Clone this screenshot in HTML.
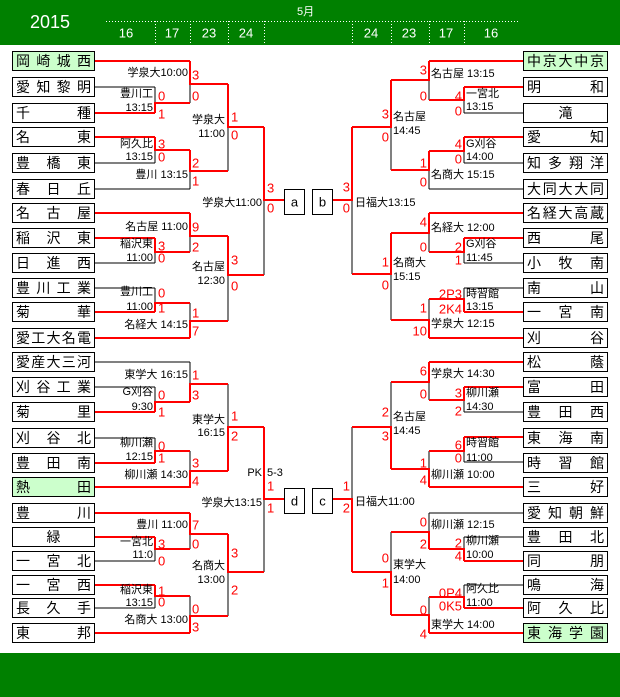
<!DOCTYPE html>
<html><head><meta charset="utf-8">
<style>
body{margin:0;width:620px;height:697px;position:relative;background:#fff;overflow:hidden;font-family:"Liberation Sans","Noto Sans CJK JP",sans-serif}
.t{position:absolute;height:18px;border:1px solid #000;display:flex;justify-content:space-between;align-items:center;padding:0 3px;font-size:14px;font-weight:normal;line-height:18px;box-sizing:content-box;background:#fff}
.l{left:12px;width:75px}
.r{left:523px;width:77px}
.g{background:#ccffcc}
.c{justify-content:center}
svg{position:absolute;left:0;top:0}
</style></head><body>
<svg width="620" height="697" font-family="Liberation Sans, Noto Sans CJK JP, sans-serif">
<rect x="0" y="0" width="620" height="45" fill="#008000"/>
<rect x="0" y="653" width="620" height="44" fill="#008000"/>
<text x="30" y="22" fill="#fff" font-size="18" dominant-baseline="central">2015</text>
<text x="297" y="12" fill="#fff" font-size="11" dominant-baseline="central">5月</text>
<g stroke="#fff" stroke-dasharray="1,2" stroke-width="1">
<line x1="106" y1="21.5" x2="520" y2="21.5"/>
<line x1="155.5" y1="21" x2="155.5" y2="45"/><line x1="190.5" y1="21" x2="190.5" y2="45"/><line x1="228.5" y1="21" x2="228.5" y2="45"/><line x1="264.5" y1="21" x2="264.5" y2="45"/>
<line x1="352.5" y1="21" x2="352.5" y2="45"/><line x1="391.5" y1="21" x2="391.5" y2="45"/><line x1="429.5" y1="21" x2="429.5" y2="45"/><line x1="464.5" y1="21" x2="464.5" y2="45"/>
</g>
<g fill="#fff" font-size="13" text-anchor="middle" dominant-baseline="central">
<text x="126" y="33">16</text><text x="172" y="33">17</text><text x="209" y="33">23</text><text x="246" y="33">24</text>
<text x="371" y="33">24</text><text x="409" y="33">23</text><text x="446" y="33">17</text><text x="491" y="33">16</text>
</g>
<g stroke="#000" stroke-width="1" fill="none">
<path d="M95 87H155M95 163H155M95 189H190M95 263H155M95 288H155M95 362H190M95 387H155M95 438H155M95 561H155M95 608H155"/>
<path d="M523 113H464M523 163H464M523 189H429M523 263H464M523 288H464M523 412H464M523 462H464M523 513H429M523 537H464M523 585H464"/>
<path d="M155 87V113M190 61V103M155 137V163M190 150V189M228 84V171M155 238V263M190 213V252M155 288V312M190 303V338M228 236V321M264 127V275M155 387V412M190 362V402M155 438V463M190 451V488M228 384V471M155 537V561M190 513V549M155 585V608M190 596V633M228 534V616M264 427V572"/>
<path d="M464 87V113M429 61V100M464 137V163M429 151V189M391 80V170M464 238V263M429 213V252M464 288V312M429 299V338M391 233V320M352 127V274M464 387V412M429 362V400M464 437V462M429 451V487M391 382V469M464 537V561M429 513V549M464 585V608M429 597V633M391 532V615M352 427V572"/>
</g>
<g stroke="#ff0000" stroke-width="2" fill="none">
<path d="M95 61H190M95 113H155M95 137H155M95 213H190M95 238H155M95 312H155M95 338H190M95 412H155M95 463H155M95 487H190M95 513H190M95 537H155M95 585H155M95 633H190"/>
<path d="M523 61H429M523 87H464M523 137H464M523 213H429M523 238H464M523 312H464M523 338H429M523 362H429M523 387H464M523 437H464M523 487H429M523 561H464M523 608H464M523 633H429"/>
<path d="M155 113V103H190M190 61V84H228M155 137V150H190M190 150V171H228M228 84V127H264M155 238V252H190M190 213V236H228M155 312V303H190M190 338V321H228M228 236V275H264M264 127V200H284M155 412V402H190M190 402V384H228M155 463V451H190M190 488V471H228M228 471V427H264M155 537V549H190M190 513V534H228M155 585V596H190M190 633V616H228M228 534V572H264M264 427V499H284"/>
<path d="M464 87V100H429M429 61V80H391M464 137V151H429M429 151V170H391M391 80V127H352M464 238V252H429M429 213V233H391M464 312V299H429M429 338V320H391M391 233V274H352M352 127V200H332M464 387V400H429M429 362V382H391M464 437V451H429M429 487V469H391M391 469V427H352M464 561V549H429M429 549V532H391M464 608V597H429M429 633V615H391M391 615V572H352M352 572V499H332"/>
</g>
<g stroke="#000" fill="#fff"><rect x="284.5" y="189.5" width="20" height="25"/><rect x="312.5" y="189.5" width="20" height="25"/><rect x="284.5" y="488.5" width="20" height="25"/><rect x="312.5" y="488.5" width="20" height="25"/></g>
<g font-size="13" text-anchor="middle" dominant-baseline="central"><text x="294.5" y="202">a</text><text x="322.5" y="202">b</text><text x="294.5" y="501">d</text><text x="322.5" y="501">c</text></g>
<g font-size="11" text-anchor="end" dominant-baseline="central" fill="#000">
<text x="188" y="73">学泉大10:00</text><text x="153" y="94">豊川工</text><text x="153" y="108">13:15</text>
<text x="225" y="120">学泉大</text><text x="225" y="134">11:00</text>
<text x="153" y="144">阿久比</text><text x="153" y="157">13:15</text><text x="188" y="175">豊川 13:15</text>
<text x="262" y="203">学泉大11:00</text>
<text x="188" y="227">名古屋 11:00</text><text x="153" y="244">稲沢東</text><text x="153" y="258">11:00</text>
<text x="225" y="267">名古屋</text><text x="225" y="281">12:30</text>
<text x="153" y="292">豊川工</text><text x="153" y="307">11:00</text><text x="188" y="325">名経大 14:15</text>
<text x="188" y="375">東学大 16:15</text><text x="153" y="392">G刈谷</text><text x="153" y="407">9:30</text>
<text x="225" y="420">東学大</text><text x="225" y="433">16:15</text>
<text x="153" y="443">柳川瀬</text><text x="153" y="457">12:15</text><text x="188" y="475">柳川瀬 14:30</text>
<text x="262" y="473">PK</text><text x="262" y="503">学泉大13:15</text>
<text x="188" y="525">豊川 11:00</text><text x="153" y="542">一宮北</text><text x="153" y="555">11:0</text>
<text x="225" y="566">名商大</text><text x="225" y="580">13:00</text>
<text x="153" y="590">稲沢東</text><text x="153" y="603">13:15</text><text x="188" y="620">名商大 13:00</text>
</g>
<g font-size="11" dominant-baseline="central" fill="#000">
<text x="267" y="473">5-3</text>
<text x="431" y="74">名古屋 13:15</text><text x="466" y="94">一宮北</text><text x="466" y="107">13:15</text>
<text x="393" y="117">名古屋</text><text x="393" y="131">14:45</text>
<text x="466" y="144">G刈谷</text><text x="466" y="157">14:00</text><text x="431" y="175">名商大 15:15</text>
<text x="355" y="203">日福大13:15</text>
<text x="431" y="228">名経大 12:00</text><text x="466" y="244">G刈谷</text><text x="466" y="258">11:45</text>
<text x="393" y="263">名商大</text><text x="393" y="277">15:15</text>
<text x="466" y="294">時習館</text><text x="466" y="307">13:15</text><text x="431" y="324">学泉大 12:15</text>
<text x="431" y="374">学泉大 14:30</text><text x="466" y="393">柳川瀬</text><text x="466" y="407">14:30</text>
<text x="393" y="417">名古屋</text><text x="393" y="431">14:45</text>
<text x="466" y="443">時習館</text><text x="466" y="458">11:00</text><text x="431" y="475">柳川瀬 10:00</text>
<text x="355" y="502">日福大11:00</text>
<text x="431" y="525">柳川瀬 12:15</text><text x="466" y="541">柳川瀬</text><text x="466" y="555">10:00</text>
<text x="393" y="565">東学大</text><text x="393" y="580">14:00</text>
<text x="466" y="589">阿久比</text><text x="466" y="603">11:00</text><text x="431" y="625">東学大 14:00</text>
</g>
<g font-size="13" fill="#ff0000" dominant-baseline="central">
<text x="158" y="96">0</text><text x="158" y="114">1</text>
<text x="192" y="75">3</text><text x="192" y="96">0</text>
<text x="158" y="144">3</text><text x="158" y="157">0</text>
<text x="192" y="163">2</text><text x="192" y="181">1</text>
<text x="231" y="117">1</text><text x="231" y="135">0</text>
<text x="267" y="188">3</text><text x="267" y="208">0</text>
<text x="158" y="246">3</text><text x="158" y="258">0</text>
<text x="192" y="227">9</text><text x="192" y="247">2</text>
<text x="158" y="293">0</text><text x="158" y="308">1</text>
<text x="192" y="313">1</text><text x="192" y="331">7</text>
<text x="231" y="260">3</text><text x="231" y="286">0</text>
<text x="158" y="395">0</text><text x="158" y="412">1</text>
<text x="192" y="375">1</text><text x="192" y="395">3</text>
<text x="158" y="446">0</text><text x="158" y="458">1</text>
<text x="192" y="463">3</text><text x="192" y="481">4</text>
<text x="231" y="416">1</text><text x="231" y="436">2</text>
<text x="267" y="486">1</text><text x="267" y="508">1</text>
<text x="192" y="525">7</text><text x="192" y="544">0</text>
<text x="158" y="544">3</text><text x="158" y="561">0</text>
<text x="158" y="591">1</text><text x="158" y="602">0</text>
<text x="192" y="609">0</text><text x="192" y="627">3</text>
<text x="231" y="553">3</text><text x="231" y="590">2</text>
</g>
<g font-size="13" fill="#ff0000" dominant-baseline="central" text-anchor="end">
<text x="462" y="96">4</text><text x="462" y="111">0</text>
<text x="427" y="70">3</text><text x="427" y="96">0</text>
<text x="462" y="144">4</text><text x="462" y="159">0</text>
<text x="427" y="163">1</text><text x="427" y="182">0</text>
<text x="389" y="114">3</text><text x="389" y="137">0</text>
<text x="350" y="187">3</text><text x="350" y="208">0</text>
<text x="462" y="247">2</text><text x="462" y="260">1</text>
<text x="427" y="222">4</text><text x="427" y="247">0</text>
<text x="462" y="294">2P3</text><text x="462" y="309">2K4</text>
<text x="427" y="308">1</text><text x="427" y="331">10</text>
<text x="389" y="262">1</text><text x="389" y="285">0</text>
<text x="462" y="393">3</text><text x="462" y="411">2</text>
<text x="427" y="371">6</text><text x="427" y="394">0</text>
<text x="462" y="445">6</text><text x="462" y="458">0</text>
<text x="427" y="463">1</text><text x="427" y="480">4</text>
<text x="389" y="412">2</text><text x="389" y="436">3</text>
<text x="350" y="486">1</text><text x="350" y="508">2</text>
<text x="462" y="543">2</text><text x="462" y="556">4</text>
<text x="427" y="522">0</text><text x="427" y="544">2</text>
<text x="462" y="593">0P4</text><text x="462" y="606">0K5</text>
<text x="427" y="610">0</text><text x="427" y="634">4</text>
<text x="389" y="558">0</text><text x="389" y="583">1</text>
</g>
</svg>
<div class="t l g" style="top:51px"><span>岡</span><span>崎</span><span>城</span><span>西</span></div>
<div class="t l" style="top:77px"><span>愛</span><span>知</span><span>黎</span><span>明</span></div>
<div class="t l" style="top:103px"><span>千</span><span>種</span></div>
<div class="t l" style="top:127px"><span>名</span><span>東</span></div>
<div class="t l" style="top:153px"><span>豊</span><span>橋</span><span>東</span></div>
<div class="t l" style="top:179px"><span>春</span><span>日</span><span>丘</span></div>
<div class="t l" style="top:203px"><span>名</span><span>古</span><span>屋</span></div>
<div class="t l" style="top:228px"><span>稲</span><span>沢</span><span>東</span></div>
<div class="t l" style="top:253px"><span>日</span><span>進</span><span>西</span></div>
<div class="t l" style="top:278px"><span>豊</span><span>川</span><span>工</span><span>業</span></div>
<div class="t l" style="top:302px"><span>菊</span><span>華</span></div>
<div class="t l" style="top:328px"><span>愛</span><span>工</span><span>大</span><span>名</span><span>電</span></div>
<div class="t l" style="top:352px"><span>愛</span><span>産</span><span>大</span><span>三</span><span>河</span></div>
<div class="t l" style="top:377px"><span>刈</span><span>谷</span><span>工</span><span>業</span></div>
<div class="t l" style="top:402px"><span>菊</span><span>里</span></div>
<div class="t l" style="top:428px"><span>刈</span><span>谷</span><span>北</span></div>
<div class="t l" style="top:453px"><span>豊</span><span>田</span><span>南</span></div>
<div class="t l g" style="top:477px"><span>熱</span><span>田</span></div>
<div class="t l" style="top:503px"><span>豊</span><span>川</span></div>
<div class="t l c" style="top:527px"><span>緑</span></div>
<div class="t l" style="top:551px"><span>一</span><span>宮</span><span>北</span></div>
<div class="t l" style="top:575px"><span>一</span><span>宮</span><span>西</span></div>
<div class="t l" style="top:598px"><span>長</span><span>久</span><span>手</span></div>
<div class="t l" style="top:623px"><span>東</span><span>邦</span></div>
<div class="t r g" style="top:51px"><span>中</span><span>京</span><span>大</span><span>中</span><span>京</span></div>
<div class="t r" style="top:77px"><span>明</span><span>和</span></div>
<div class="t r c" style="top:103px"><span>滝</span></div>
<div class="t r" style="top:127px"><span>愛</span><span>知</span></div>
<div class="t r" style="top:153px"><span>知</span><span>多</span><span>翔</span><span>洋</span></div>
<div class="t r" style="top:179px"><span>大</span><span>同</span><span>大</span><span>大</span><span>同</span></div>
<div class="t r" style="top:203px"><span>名</span><span>経</span><span>大</span><span>高</span><span>蔵</span></div>
<div class="t r" style="top:228px"><span>西</span><span>尾</span></div>
<div class="t r" style="top:253px"><span>小</span><span>牧</span><span>南</span></div>
<div class="t r" style="top:278px"><span>南</span><span>山</span></div>
<div class="t r" style="top:302px"><span>一</span><span>宮</span><span>南</span></div>
<div class="t r" style="top:328px"><span>刈</span><span>谷</span></div>
<div class="t r" style="top:352px"><span>松</span><span>蔭</span></div>
<div class="t r" style="top:377px"><span>富</span><span>田</span></div>
<div class="t r" style="top:402px"><span>豊</span><span>田</span><span>西</span></div>
<div class="t r" style="top:428px"><span>東</span><span>海</span><span>南</span></div>
<div class="t r" style="top:453px"><span>時</span><span>習</span><span>館</span></div>
<div class="t r" style="top:477px"><span>三</span><span>好</span></div>
<div class="t r" style="top:503px"><span>愛</span><span>知</span><span>朝</span><span>鮮</span></div>
<div class="t r" style="top:527px"><span>豊</span><span>田</span><span>北</span></div>
<div class="t r" style="top:551px"><span>同</span><span>朋</span></div>
<div class="t r" style="top:575px"><span>鳴</span><span>海</span></div>
<div class="t r" style="top:598px"><span>阿</span><span>久</span><span>比</span></div>
<div class="t r g" style="top:623px"><span>東</span><span>海</span><span>学</span><span>園</span></div>
</body></html>
